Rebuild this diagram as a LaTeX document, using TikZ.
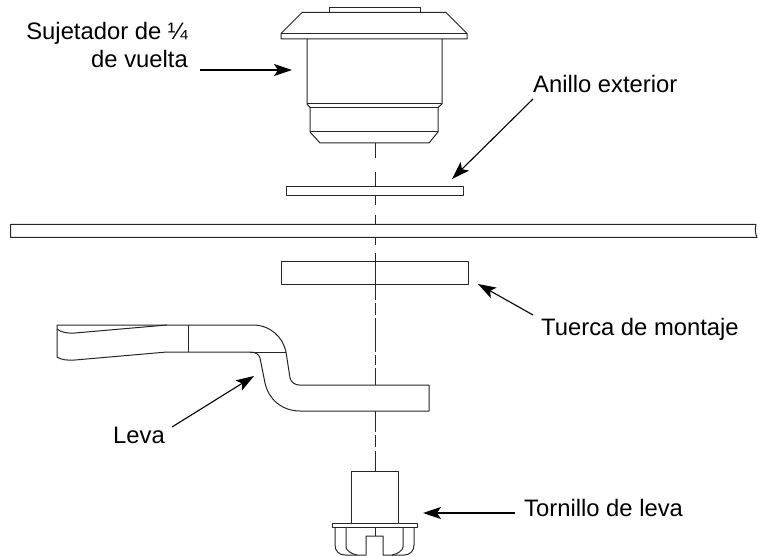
\documentclass[tikz,border=0pt]{standalone}
\usepackage{fontspec}
\setmainfont{Liberation Sans}
\usetikzlibrary{arrows.meta}
\tikzset{
  part/.style={draw=black!85,line width=1pt,line join=round},
  axisline/.style={draw=black!85,line width=.9pt},
  callout/.style={draw=black,line width=1.1pt,-{Stealth[length=18pt,width=12pt,inset=4pt]}},
  calloutlabel/.style={font=\fontsize{23.8}{28.5}\selectfont,inner sep=0pt}
}
\begin{document}
\begin{tikzpicture}[x=1pt,y=-1pt]
      \useasboundingbox (0,0) rectangle (758,556);
      % center line
      \foreach \a/\b in {143/158,172/187,196/205,215/224.5,237.5/245.5,253/300,303/315,318/352,355/365,368/385,411/432,435/447,451/471}
        \draw[axisline] (375,\a) -- (375,\b);
      \draw[axisline] (375,527) -- (375,536);
      % quarter turn fastener
      \draw[part] (329,12.5) -- (329,8) -- (420,8) -- (420,12.5);
      \draw[part] (281,33.5) -- (302,12.5) -- (446,12.5) -- (467,33.5) -- (467,39) -- (281,39) -- cycle;
      \draw[part] (281,33.5) -- (467,33.5);
      \draw[part] (307,39) -- (307,104) -- (310,107.5) -- (310,132) -- (320,143)
        -- (429,143) -- (438,132) -- (438,107.5) -- (442,104) -- (442,39);
      \draw[part] (307,104) -- (442,104);
      \draw[part] (310,107.5) -- (438,107.5);
      \draw[part] (310,132) -- (438,132);
      % outer ring, panel, mounting nut
      \draw[part] (286,187) rectangle (463,196);
      \draw[part] (756,224.5) -- (10.5,224.5) -- (10.5,237.5) -- (757,237.5)
        .. controls (755.5,234) and (754.5,230) .. (756,224.5);
      \draw[part] (281,262) rectangle (468,284.5);
      % cam
      \draw[part] (57,325) -- (253,325) .. controls (270,325) and (283,337) .. (286,352)
        -- (290,378) .. controls (291,382) and (295,385) .. (299,385)
        -- (429,385) -- (429,411) -- (300,411)
        .. controls (281,411) and (268,398) .. (265,383)
        -- (260,358) .. controls (259,354) and (255,352) .. (250,352)
        -- (167,352) -- (75,360) .. controls (68,360.5) and (61,360) .. (57,357) -- cycle;
      \draw[part] (250,352) -- (286,352);
      \draw[part] (188,325) -- (188,352);
      \draw[part] (57,329) .. controls (61,332.5) and (68,333.5) .. (75,333) -- (167,325);
      % cam screw
      \draw[part] (351,523) -- (351,471) -- (398,471) -- (398,523);
      \draw[part] (332,523) rectangle (417,527);
      \draw[part] (335,527) -- (335,545) .. controls (335,551) and (339,555) .. (345,555)
        -- (366,555) -- (366,536) -- (383,536) -- (383,555) -- (404,555)
        .. controls (410,555) and (414,551) .. (414,545) -- (414,527);
      \draw[part] (346,527) -- (346,547) .. controls (346,550) and (351,554) .. (357,555);
      \draw[part] (403,527) -- (403,547) .. controls (403,550) and (398,554) .. (392,555);
      % labels
      \node[calloutlabel,align=right,anchor=base east] (fastener) at (188,68) {Sujetador de ¼\\de vuelta};
      \node[calloutlabel,anchor=base west] (ring) at (533,93) {Anillo exterior};
      \node[calloutlabel,anchor=base west] (nut) at (541,335) {Tuerca de montaje};
      \node[calloutlabel,anchor=base west] (cam) at (113,443) {Leva};
      \node[calloutlabel,anchor=base west] (screw) at (524,516) {Tornillo de leva};
      \coordinate (fastenertail) at (200,70);
      \coordinate (fastenertip) at (292,70);
      \coordinate (ringtail) at (533,99);
      \coordinate (ringtip) at (452,179);
      \coordinate (nuttail) at (533,315);
      \coordinate (nuttip) at (478,284);
      \coordinate (camtail) at (172,427);
      \coordinate (camtip) at (254,376);
      \coordinate (screwtail) at (515,513);
      \coordinate (screwtip) at (423,513);
      \draw[callout,line width=1.5pt] (fastenertail) -- (fastenertip);
      \draw[callout] (ringtail) -- (ringtip);
      \draw[callout] (nuttail) -- (nuttip);
      \draw[callout] (camtail) -- (camtip);
      \draw[callout,line width=1.5pt] (screwtail) -- (screwtip);
    \end{tikzpicture}
\end{document}
